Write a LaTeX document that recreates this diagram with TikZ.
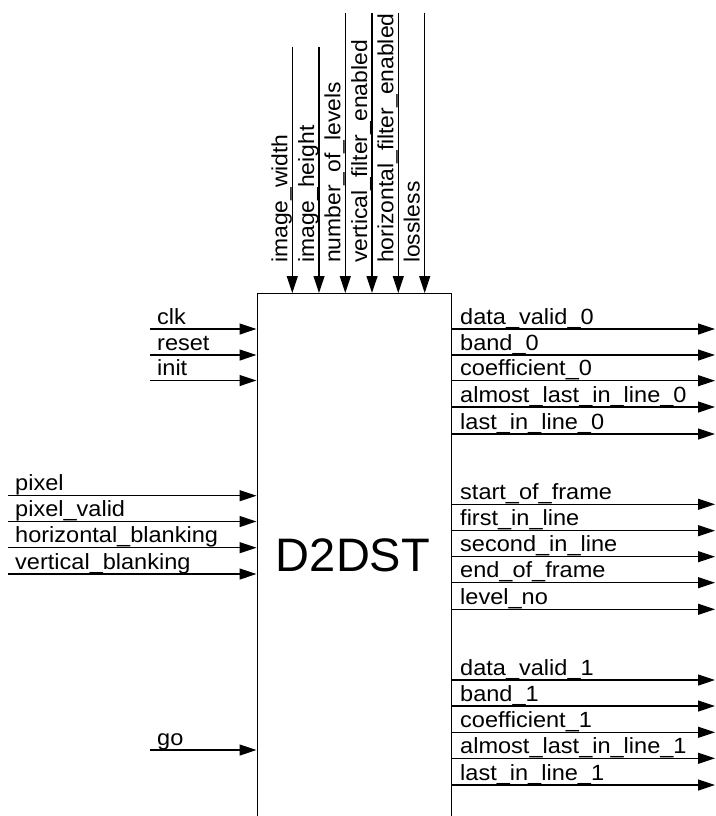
\documentclass[tikz,border=0pt]{standalone}
\usepackage{fontspec}
\setmainfont{Liberation Sans}
\newfontfamily\lblfont{Liberation Sans}[FakeStretch=1.07]
\newfontfamily\vlblfont{Liberation Sans}[FakeStretch=1.04]
\usetikzlibrary{arrows.meta}
\tikzset{
  wire/.style={line width=1.2pt,-{Triangle[length=17pt,width=11pt]}},
  lbl/.style={font=\lblfont\fontsize{22pt}{22pt}\selectfont,inner sep=0pt,anchor=base west},
  vlbl/.style={lbl,font=\vlblfont\fontsize{22pt}{22pt}\selectfont,rotate=90},
  blockbox/.style={draw,line width=1.2pt,minimum width=194.5pt,minimum height=560pt,inner sep=0pt,anchor=north west}
}
\begin{document}
\begin{tikzpicture}[x=1pt,y=-1pt]
\clip (0,0) rectangle (715,816);
\fill[white] (0,0) rectangle (715,816);
\node[blockbox] (box) at (256.5,293) {};
\node[font=\fontsize{47pt}{47pt}\selectfont,inner sep=0pt,anchor=base] (title) at (353,571) {D2DST};
% top inputs
\foreach \n/\x/\t/\txt in {t1/292.3/46.7/image\_width, t2/319/46.7/image\_height, t3/345.3/12.7/number\_of\_levels, t4/372/12.7/vertical\_filter\_enabled, t5/398.3/12.7/horizontal\_filter\_enabled, t6/424.7/12.7/lossless}{
  \coordinate (\n) at (\x,\t);
  \draw[wire] (\n) -- (\n |- box.north);
  \node[vlbl] (\n l) at (\x-5,263) {\txt};
}
% left inputs
\foreach \n/\x/\y/\lx/\txt in {l1/150/329/157/clk, l2/150/355/157/reset, l3/150/380.5/157/init, l4/8/495.7/15/pixel, l5/8/521.5/15/pixel\_valid, l6/8/547.7/15/horizontal\_blanking, l7/8/574/15/vertical\_blanking, l8/150/750/157/go}{
  \coordinate (\n) at (\x,\y);
  \draw[wire] (\n) -- (\n -| box.west);
  \node[lbl] (\n l) at (\lx,\y-5) {\txt};
}
% right outputs
\foreach \n/\y/\txt in {r1/329/data\_valid\_0, r2/355/band\_0, r3/380.7/coefficient\_0, r4/407/almost\_last\_in\_line\_0, r5/434/last\_in\_line\_0, r6/504.3/start\_of\_frame, r7/530.7/first\_in\_line, r8/556.7/second\_in\_line, r9/582.7/end\_of\_frame, r10/609.3/level\_no, r11/680/data\_valid\_1, r12/706/band\_1, r13/732.3/coefficient\_1, r14/758.3/almost\_last\_in\_line\_1, r15/785/last\_in\_line\_1}{
  \coordinate (\n) at (715,\y);
  \draw[wire] (\n -| box.east) -- (\n);
  \node[lbl] (\n l) at (460,\y-5) {\txt};
}
\end{tikzpicture}
\end{document}
